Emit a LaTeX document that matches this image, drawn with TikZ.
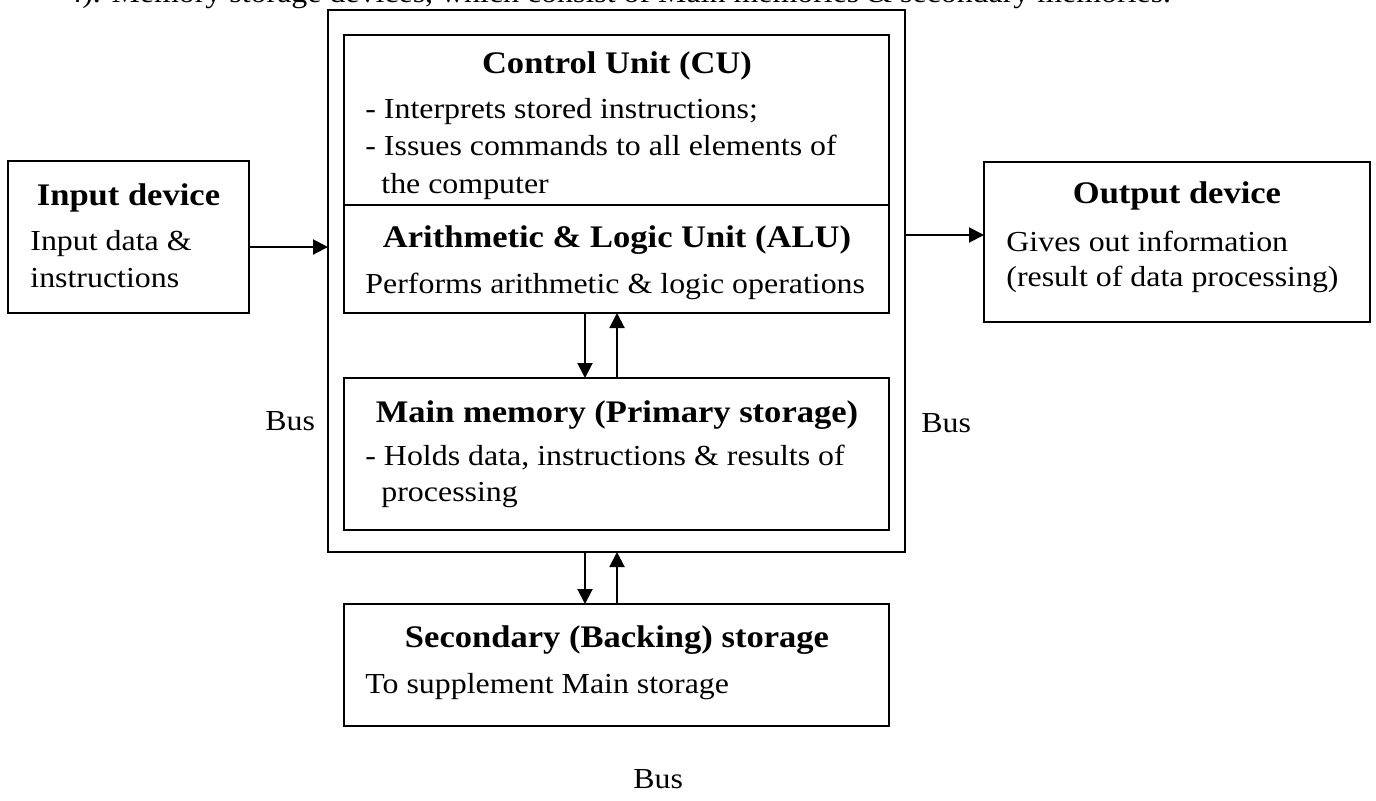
\documentclass[tikz,border=0pt]{standalone}
\usepackage{fontspec}
\setmainfont{Liberation Serif}[FakeStretch=1.1]
\usetikzlibrary{arrows.meta,fit}
\begin{document}
\begin{tikzpicture}[x=0.5pt,y=-0.5pt,
  box/.style={draw, line width=1pt, inner sep=0pt, outer sep=0pt},
  body/.style={font=\fontsize{14.5}{17}\selectfont, inner sep=0pt, anchor=base west},
  title/.style={font=\fontsize{15.7}{18}\selectfont\bfseries, inner sep=0pt, anchor=base},
  arr/.style={line width=1pt, -{Triangle[length=7.5pt,width=7.5pt]}}]
\useasboundingbox (0,0) rectangle (1376,800);
\clip (0,0) rectangle (1376,800);
\fill[white] (0,0) rectangle (1376,800);

% line of text at the top, cut off by the picture's edge as in the reference
\node[body] (toptext) at (66,2) {4). Memory storage devices, which consist of Main memories \& secondary memories.};

% boxes
\node[box, fit={(328,10) (905,552)}] (outer) {};
\node[box, fit={(344,35) (889,205)}] (cu) {};
\node[box, fit={(344,205) (889,313)}] (alu) {};
\node[box, fit={(344,378) (889,530)}] (mm) {};
\node[box, fit={(344,604) (889,726)}] (sec) {};
\node[box, fit={(8,161) (249,313)}] (in) {};
\node[box, fit={(984,162) (1370,322)}] (out) {};

% texts
\node[title] (cut) at (617,73) {Control Unit (CU)};
\node[body] (cu1) at (365,118) {- Interprets stored instructions;};
\node[body] (cu2) at (365,155) {- Issues commands to all elements of};
\node[body] (cu3) at (381,193) {the computer};

\node[title] (alut) at (617,247) {Arithmetic \& Logic Unit (ALU)};
\node[body] (alu1) at (365,293) {Performs arithmetic \& logic operations};

\node[title] (mmt) at (617,422) {Main memory (Primary storage)};
\node[body] (mm1) at (365,465) {- Holds data, instructions \& results of};
\node[body] (mm2) at (381,501) {processing};

\node[title] (sect) at (617,647) {Secondary (Backing) storage};
\node[body] (sec1) at (365,693) {To supplement Main storage};

\node[title] (int) at (128.5,205) {Input device};
\node[body] (in1) at (30,250) {Input data \&};
\node[body] (in2) at (30,287) {instructions};

\node[title] (outt) at (1177,203) {Output device};
\node[body] (out1) at (1006,251) {Gives out information};
\node[body] (out2) at (1006,286) {(result of data processing)};

\node[body] (busl) at (265,430) {Bus};
\node[body] (busr) at (921,432) {Bus};
\node[body] (busb) at (633,788) {Bus};

% connectors
\coordinate (yin) at (0,247);
\coordinate (yout) at (0,235);
\coordinate (xd) at (585,0);
\coordinate (xu) at (617,0);
\draw[arr] (in.east |- yin) -- (outer.west |- yin);
\draw[arr] (outer.east |- yout) -- (out.west |- yout);
\draw[arr] (alu.south -| xd) -- (mm.north -| xd);
\draw[arr] (mm.north -| xu) -- (alu.south -| xu);
\draw[arr] (outer.south -| xd) -- (sec.north -| xd);
\draw[arr] (sec.north -| xu) -- (outer.south -| xu);
\end{tikzpicture}
\end{document}
